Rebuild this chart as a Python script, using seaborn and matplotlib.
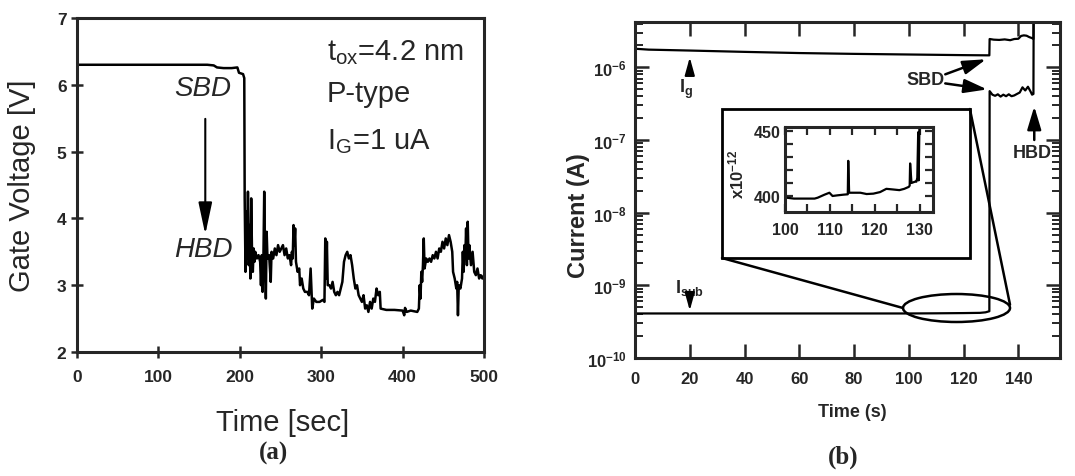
import matplotlib
matplotlib.use("Agg")
import matplotlib.pyplot as plt
import seaborn as sns
import numpy as np
from matplotlib.patches import Ellipse, Rectangle
from matplotlib.lines import Line2D
from matplotlib.ticker import LogLocator, FuncFormatter, FixedLocator, NullFormatter

# ---------------- data ----------------
gate_time = [0, 160, 168, 172, 180, 190, 197, 199, 204, 205.5, 206, 207, 208, 209, 210, 211, 212, 213, 214, 215,
             216, 217, 218, 219, 221, 223, 225, 226, 227, 228, 229, 230, 231, 232, 233, 234, 236, 238, 239, 241,
             243, 245, 247, 249, 251, 253, 255, 257, 259, 261, 263, 264, 265, 266, 267, 268, 269, 271, 273, 274,
             276, 278, 280, 283, 285, 287, 288, 289, 291, 294, 298, 302, 304, 305, 306, 307, 308, 310, 312, 314,
             316, 318, 320, 322, 324, 326, 328, 330, 332, 334, 336, 338, 340, 342, 344, 346, 348, 350, 352, 354,
             356, 358, 360, 362, 364, 366, 368, 370, 372, 373, 380, 390, 400, 402, 403, 405, 410, 418, 420, 421,
             422, 423, 424, 425, 426, 427, 429, 431, 433, 435, 437, 439, 441, 443, 445, 447, 449, 451, 453, 455,
             457, 459, 461, 462, 464, 466, 467, 468, 469, 471, 473, 474, 475, 476, 477, 478, 479, 480, 481, 482,
             484, 486, 488, 490, 492, 494, 496, 498, 500]
gate_voltage = [6.30, 6.30, 6.29, 6.26, 6.25, 6.25, 6.26, 6.18, 6.16, 6.10, 4.30, 3.20, 4.10, 3.40, 4.40, 3.30, 3.90, 3.10, 4.30, 3.50,
                3.20, 3.55, 3.35, 3.50, 3.40, 3.45, 3.35, 3.00, 3.45, 2.90, 3.40, 4.40, 3.50, 2.80, 3.80, 3.40, 3.45, 3.05, 3.50, 3.40,
                3.55, 3.45, 3.60, 3.50, 3.55, 3.60, 3.45, 3.55, 3.40, 3.45, 3.30, 3.50, 3.40, 3.90, 3.60, 3.85, 3.35, 3.20, 3.25, 3.00,
                3.10, 2.95, 2.90, 2.90, 2.85, 3.25, 2.95, 2.65, 2.80, 2.75, 2.75, 2.78, 2.75, 3.70, 3.10, 3.65, 3.00, 3.00, 2.95, 3.05,
                2.90, 2.85, 2.90, 2.85, 2.95, 3.05, 3.35, 3.45, 3.50, 3.40, 3.45, 3.30, 3.10, 2.95, 3.00, 2.85, 2.80, 2.75, 2.85, 2.65,
                2.70, 2.60, 2.75, 2.65, 2.80, 2.75, 2.95, 2.85, 2.90, 2.65, 2.63, 2.63, 2.62, 2.55, 2.66, 2.60, 2.62, 2.60, 2.65, 3.00,
                2.80, 3.20, 3.05, 3.30, 3.70, 3.25, 3.40, 3.35, 3.40, 3.35, 3.45, 3.40, 3.50, 3.40, 3.55, 3.50, 3.65, 3.55, 3.70, 3.60,
                3.75, 3.65, 3.50, 3.20, 3.10, 2.95, 3.05, 2.55, 3.00, 2.95, 3.10, 3.50, 3.20, 3.60, 3.40, 3.85, 3.30, 3.95, 3.40, 3.60,
                3.30, 3.50, 3.20, 3.15, 3.25, 3.10, 3.15, 3.10, 3.15]

ig_time = [0, 5, 20, 40, 60, 80, 100, 120, 129.4, 129.5, 131, 133, 135, 137, 138.5, 140, 141, 142, 143, 144, 145, 145.5, 145.6]
ig_current = [1.80e-6, 1.75e-6, 1.70e-6, 1.63e-6, 1.57e-6, 1.53e-6, 1.50e-6, 1.47e-6, 1.46e-6, 2.45e-6, 2.40e-6, 2.38e-6,
              2.42e-6, 2.36e-6, 2.45e-6, 2.47e-6, 2.70e-6, 2.75e-6, 2.72e-6, 2.60e-6, 2.52e-6, 2.45e-6, 1e-5]

isub_time = [0, 20, 40, 60, 80, 100, 110, 120, 126, 128, 129.4, 129.5, 130.5, 131.5, 132.5, 133.5, 134.5, 135.5, 136.5,
             137.5, 138.5, 139.5, 140.5, 141.5, 142.5, 143.5, 144.5, 145.0, 145.5, 145.6]
isub_current = [4.10e-10, 4.10e-10, 4.10e-10, 4.10e-10, 4.10e-10, 4.10e-10, 4.12e-10, 4.15e-10, 4.18e-10, 4.25e-10, 4.40e-10,
                4.70e-7, 4.20e-7, 4.05e-7, 4.25e-7, 3.95e-7, 4.20e-7, 4.00e-7, 4.25e-7, 4.00e-7, 4.10e-7,
                4.30e-7, 4.50e-7, 5.30e-7, 4.80e-7, 5.40e-7, 4.60e-7, 4.20e-7, 4.30e-7, 1e-5]

inset_time = [100.3, 102, 104, 106.6, 107.3, 108.8, 109.9, 110.6, 111.7, 113, 114.0, 114.1, 114.3, 116.8, 118.2, 119.7,
              121.2, 122.6, 124.1, 125.5, 126.6, 127.6, 127.8, 127.9, 128.2, 129.0, 129.3, 129.5, 129.7, 129.8, 130.0]
inset_isub_pA = [398.7, 398.0, 398.0, 398.0, 398.7, 401.0, 402.5, 400.0, 400.5, 401.0, 401.3, 427.0, 402.5, 402.5, 401.5, 401.8,
                 403.0, 405.5, 405.0, 404.5, 405.5, 407.0, 408.0, 425.0, 410.0, 411.0, 411.0, 414.0, 449.0, 412.0, 460.0]

a_xticks = [0, 100, 200, 300, 400, 500]
a_yticks = [2, 3, 4, 5, 6, 7]
b_xticks = [0, 20, 40, 60, 80, 100, 120, 140]
b_yticks = [1e-10, 1e-9, 1e-8, 1e-7, 1e-6]
in_xticks = [100, 110, 120, 130]
in_yticks = [400, 450]

# ---------------- style ----------------
sns.set_style("ticks")
plt.rcParams['font.family'] = ['Liberation Sans', 'DejaVu Sans']
plt.rcParams['mathtext.fontset'] = 'custom'
plt.rcParams['mathtext.rm'] = 'Liberation Sans'
plt.rcParams['mathtext.it'] = 'Liberation Sans:italic'
plt.rcParams['mathtext.bf'] = 'Liberation Sans:bold'

W, H = 1075, 477
fig = plt.figure(figsize=(10.75, 4.77), dpi=100)

def fr(l, t, r, b):
    return [l / W, 1 - b / H, (r - l) / W, (b - t) / H]

# ---------------- panel (a) ----------------
axA = fig.add_axes(fr(77, 19, 484, 353))
sns.lineplot(x=gate_time, y=gate_voltage, ax=axA, color='black', lw=1.8, estimator=None, sort=False)
axA.set_xlim(0, 500)
axA.set_ylim(2, 7)
axA.set_xticks(a_xticks)
axA.set_yticks(a_yticks)
axA.set_xticklabels([str(v) for v in a_xticks], fontweight='bold', fontsize=12.5)
axA.set_yticklabels([str(v) for v in a_yticks], fontweight='bold', fontsize=12.5)
axA.tick_params(direction='inout', length=9, width=1.8, pad=8)
axA.tick_params(axis='y', pad=3)
for s in axA.spines.values():
    s.set_linewidth(2.2)
    s.set_visible(True)
axA.set_xlabel('Time [sec]', fontsize=21)
axA.set_ylabel('Gate Voltage [V]', fontsize=21)
axA.xaxis.set_label_coords(0.504, -0.21)
axA.yaxis.set_label_coords(-0.135, 0.5)
axA.xaxis.label.set_va('center')
axA.yaxis.label.set_va('center')

axA.text(307, 6.50, r't$_\mathregular{ox}$=4.2 nm', fontsize=21, va='center', ha='left')
axA.text(307, 5.87, 'P-type', fontsize=21, va='center', ha='left')
axA.text(307, 5.16, r'I$_\mathregular{G}$=1 uA', fontsize=21, va='center', ha='left')
axA.text(155, 5.95, 'SBD', fontsize=20, style='italic', ha='center', va='center')
axA.text(155, 3.54, 'HBD', fontsize=20, style='italic', ha='center', va='center')
axA.annotate('', xy=(157.6, 3.76), xytext=(157.6, 5.49),
             arrowprops=dict(arrowstyle='-|>,head_length=1.5,head_width=0.32', lw=1.5, color='black',
                             mutation_scale=13, shrinkA=0, shrinkB=0))

fig.text(274 / W, 1 - 453 / H, '(a)', family='Liberation Serif', fontweight='bold', fontsize=18,
         ha='center', va='center')

# ---------------- panel (b) ----------------
axB = fig.add_axes(fr(635, 23, 1060, 359))
sns.lineplot(x=ig_time, y=ig_current, ax=axB, color='black', lw=1.6, estimator=None, sort=False)
sns.lineplot(x=isub_time, y=isub_current, ax=axB, color='black', lw=1.6, estimator=None, sort=False)
axB.set_yscale('log')
axB.set_xlim(0, 155.2)
axB.set_ylim(1e-10, 4.2e-6)
axB.set_xticks(b_xticks)
axB.set_xticklabels([str(v) for v in b_xticks], fontweight='bold', fontsize=12)
axB.yaxis.set_major_locator(FixedLocator(b_yticks))
axB.yaxis.set_minor_locator(LogLocator(base=10, subs=np.arange(2, 10), numticks=20))
axB.yaxis.set_minor_formatter(NullFormatter())
axB.yaxis.set_major_formatter(FuncFormatter(lambda v, p: r'$\mathbf{10^{%d}}$' % round(np.log10(v))))
axB.tick_params(which='major', direction='in', length=10, width=1.8, top=True, right=True, labelsize=12, pad=9)
axB.tick_params(which='minor', direction='in', length=6, width=1.4, top=False, right=True)
axB.tick_params(axis='y', which='major', labelsize=12, pad=6)
axB.tick_params(axis='x', which='minor', bottom=False, top=False)
for s in axB.spines.values():
    s.set_linewidth(2.2)
    s.set_visible(True)
axB.set_xlabel('Time (s)', fontsize=13, fontweight='bold')
axB.set_ylabel('Current (A)', fontsize=17, fontweight='bold')
axB.xaxis.set_label_coords(0.511, -0.158)
axB.yaxis.set_label_coords(-0.132, 0.426)
axB.xaxis.label.set_va('center')
axB.yaxis.label.set_va('center')

arrow_small = dict(arrowstyle='-|>,head_length=0.9,head_width=0.25', lw=1.4, color='black',
                   mutation_scale=12, shrinkA=0, shrinkB=0)
axB.text(18.5, 5.2e-7, r'$\mathbf{I_g}$', fontsize=13, ha='center', va='center')
axB.annotate('', xy=(20, 1.37e-6), xytext=(20, 8.5e-7), arrowprops=arrow_small)
axB.text(20, 9.6e-10, r'$\mathbf{I_{sub}}$', fontsize=13, ha='center', va='center')
axB.annotate('', xy=(20, 4.5e-10), xytext=(20, 6.8e-10), arrowprops=arrow_small)

arrow_mid = dict(arrowstyle='-|>,head_length=1.0,head_width=0.3', lw=1.8, color='black',
                 mutation_scale=14, shrinkA=0, shrinkB=0)
axB.text(113.0, 6.8e-7, 'SBD', fontsize=13, fontweight='bold', ha='right', va='center')
axB.annotate('', xy=(128.2, 1.29e-6), xytext=(113.3, 8.0e-7), arrowprops=arrow_mid)
axB.annotate('', xy=(128.6, 4.96e-7), xytext=(113.3, 6.0e-7), arrowprops=arrow_mid)
axB.text(144.9, 6.7e-8, 'HBD', fontsize=13, fontweight='bold', ha='center', va='center')
axB.annotate('', xy=(145.8, 2.9e-7), xytext=(145.8, 1.0e-7), arrowprops=arrow_mid)

# zoom indicator (box, ellipse, connecting lines) in axes fractions
bx0, bx1, by0, by1 = 0.2047, 0.788, 0.2976, 0.741
ex, ey, ew, eh = 0.7565, 0.1488, 0.2518, 0.0833
axB.add_patch(Rectangle((bx0, by0), bx1 - bx0, by1 - by0, transform=axB.transAxes, fill=False,
                        lw=2.0, ec='black', zorder=3))
axB.add_patch(Ellipse((ex, ey), ew, eh, transform=axB.transAxes, fill=False, lw=1.8, ec='black', zorder=3))
axB.add_line(Line2D([bx0, ex - ew / 2], [by0, ey], transform=axB.transAxes, color='black', lw=1.8))
axB.add_line(Line2D([bx1, ex + ew / 2], [by1, ey + 0.01], transform=axB.transAxes, color='black', lw=1.8))

fig.text(843 / W, 1 - 457 / H, '(b)', family='Liberation Serif', fontweight='bold', fontsize=18,
         ha='center', va='center')

# ---------------- inset ----------------
axI = fig.add_axes(fr(785, 128, 933, 213))
sns.lineplot(x=inset_time, y=inset_isub_pA, ax=axI, color='black', lw=1.6, estimator=None, sort=False)
axI.set_xlim(100, 133)
axI.set_ylim(387.7, 453)
axI.xaxis.set_major_locator(FixedLocator(in_xticks))
axI.xaxis.set_minor_locator(FixedLocator([105, 115, 125]))
axI.yaxis.set_major_locator(FixedLocator(in_yticks))
axI.yaxis.set_minor_locator(FixedLocator([410, 420, 430, 440]))
axI.set_xticklabels([str(v) for v in in_xticks], fontweight='bold', fontsize=11.5)
axI.set_yticklabels([str(v) for v in in_yticks], fontweight='bold', fontsize=11.5)
axI.tick_params(which='both', direction='in', length=6, width=1.6, top=True, right=True)
axI.tick_params(axis='x', pad=7)
axI.tick_params(axis='y', pad=3)
for s in axI.spines.values():
    s.set_linewidth(2.2)
    s.set_visible(True)
axI.set_ylabel(r'$\mathbf{x10^{-12}}$', fontsize=12)
axI.yaxis.set_label_coords(-0.33, 0.45)
axI.yaxis.label.set_va('center')

fig.savefig('out.png', dpi=100)
